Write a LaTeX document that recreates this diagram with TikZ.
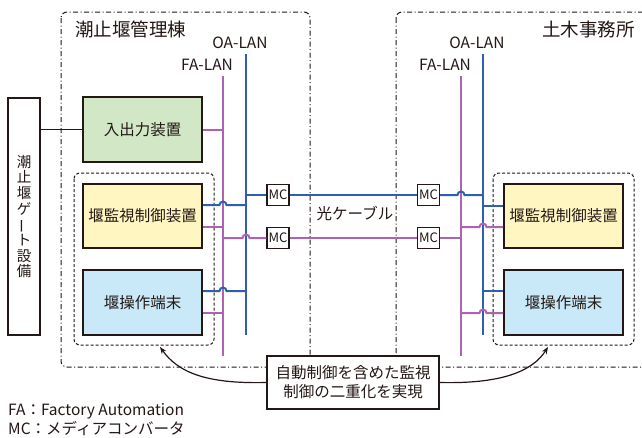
\documentclass[tikz,border=0pt]{standalone}
\usepackage{fontspec}
\setmainfont{Noto Sans CJK JP}
\usepackage{graphicx}
\usetikzlibrary{arrows.meta}

\definecolor{ink}{HTML}{231815}
\definecolor{oablue}{HTML}{2F5FAE}
\definecolor{fapurple}{HTML}{AE62B4}
\definecolor{iofill}{HTML}{D2E7C6}
\definecolor{ctlfill}{HTML}{FFF6C2}
\definecolor{termfill}{HTML}{C9E8F8}

\tikzset{
  devbox/.style={draw=ink, line width=1.8pt, minimum width=119pt, text=ink,
    font=\fontsize{15.5}{17}\selectfont, inner sep=0pt},
  mcbox/.style={draw=ink, fill=white, line width=1.4pt, minimum width=22pt,
    minimum height=21pt, inner sep=0pt, text=ink, font=\fontsize{13}{13}\selectfont},
  sitebox/.style={draw=ink, line width=1pt, rounded corners=6pt,
    dash pattern=on 5pt off 2.5pt on 1pt off 2.5pt},
  groupbox/.style={draw=ink, line width=1pt, rounded corners=6pt,
    dash pattern=on 3pt off 2pt},
  oaline/.style={draw=oablue, line width=2pt},
  faline/.style={draw=fapurple, line width=2pt},
  plain/.style={text=ink, inner sep=0pt},
  callarrow/.style={draw=ink, line width=1.2pt, -{Stealth[length=7pt,width=5.5pt]}},
}

\newcommand{\hopR}{arc[start angle=180, end angle=360, radius=3.5]}

\begin{document}
\begin{tikzpicture}[x=1pt, y=-1pt]
\clip (0,0) rectangle (642,437);
\fill[white] (0,0) rectangle (642,437);

% site enclosures
\draw[sitebox] (61,12) rectangle (310,367);
\draw[sitebox] (396,12) rectangle (650,367);
\node[plain, anchor=west, font=\fontsize{18.5}{20}\selectfont] (titleL) at (75,29) {潮止堰管理棟};
\node[plain, anchor=east, font=\fontsize{18.5}{20}\selectfont] (titleR) at (635,29) {土木事務所};

% duplicated control groups
\draw[groupbox] (74,173) rectangle (214,345);
\draw[groupbox] (493,173) rectangle (634,345);

% LAN buses
\coordinate (oaLtop) at (246,54);  \coordinate (oaLbot) at (246,335);
\coordinate (faLtop) at (223,76);  \coordinate (faLbot) at (223,356);
\coordinate (oaRtop) at (483,54);  \coordinate (oaRbot) at (483,335);
\coordinate (faRtop) at (461,76);  \coordinate (faRbot) at (461,356);
\draw[faline] (faLtop) -- (faLbot);
\draw[oaline] (oaLtop) -- (oaLbot);
\draw[faline] (faRtop) -- (faRbot);
\draw[oaline] (oaRtop) -- (oaRbot);

\node[plain, font=\fontsize{15.5}{16}\selectfont, anchor=south] (oaLlab) at (240,49) {OA-LAN};
\node[plain, font=\fontsize{15.5}{16}\selectfont, anchor=south] (faLlab) at (207,71) {FA-LAN};
\node[plain, font=\fontsize{15.5}{16}\selectfont, anchor=south] (oaRlab) at (477,49) {OA-LAN};
\node[plain, font=\fontsize{15.5}{16}\selectfont, anchor=south] (faRlab) at (445,71) {FA-LAN};

% equipment
\node[draw=ink, line width=1.8pt, minimum width=32pt, minimum height=237pt,
      inner sep=0pt, text=ink, font=\fontsize{14.5}{15.7}\selectfont,
      align=center] (gate) at (24,216.5)
  {潮\\止\\堰\\ゲ\\\rotatebox[origin=c]{90}{ー}\\ト\\設\\備};
\node[devbox, fill=iofill, minimum height=65pt] (io) at (142.5,129.5) {入出力装置};
\node[devbox, fill=ctlfill, minimum height=64pt] (ctlL) at (142.5,216) {堰監視制御装置};
\node[devbox, fill=termfill, minimum height=65pt] (termL) at (142.5,302.5) {堰操作端末};
\node[devbox, fill=ctlfill, minimum height=64pt] (ctlR) at (563.5,216) {堰監視制御装置};
\node[devbox, fill=termfill, minimum height=65pt] (termR) at (563.5,302.5) {堰操作端末};

% media converters
\node[mcbox] (mc1L) at (278,195) {MC};
\node[mcbox] (mc2L) at (278,238) {MC};
\node[mcbox] (mc1R) at (428.5,195) {MC};
\node[mcbox] (mc2R) at (428.5,238) {MC};

% junction and crossing points
\coordinate (ioF) at (223,130);
\coordinate (ctlLoa) at (246,205);  \coordinate (ctlLhop) at (223,205);
\coordinate (ctlLfa) at (223,227);
\coordinate (mc1Loa) at (246,195);
\coordinate (mc2Lfa) at (223,238);  \coordinate (mc2Lhop) at (246,238);
\coordinate (termLoa) at (246,291); \coordinate (termLhop) at (223,291);
\coordinate (termLfa) at (223,313);
\coordinate (mc1Roa) at (483,195);  \coordinate (mc1Rhop) at (461,195);
\coordinate (mc2Rfa) at (461,238);
\coordinate (ctlRoa) at (483,206);
\coordinate (ctlRfa) at (461,227);  \coordinate (ctlRhop) at (483,227);
\coordinate (termRoa) at (483,291);
\coordinate (termRfa) at (461,313); \coordinate (termRhop) at (483,313);

% gate equipment link
\draw[ink, line width=1.4pt] (gate.east |- io.west) -- (io.west);
\draw[faline] (io.east |- ioF) -- (ioF);

% left building links
\draw[oaline] (ctlL.east |- ctlLoa) -- ([xshift=-3.5pt]ctlLhop) \hopR -- (ctlLoa);
\draw[faline] (ctlL.east |- ctlLfa) -- (ctlLfa);
\draw[oaline] (mc1Loa) -- (mc1L.west);
\draw[faline] (mc2Lfa) -- ([xshift=-3.5pt]mc2Lhop) \hopR -- (mc2L.west);
\draw[oaline] (termL.east |- termLoa) -- ([xshift=-3.5pt]termLhop) \hopR -- (termLoa);
\draw[faline] (termL.east |- termLfa) -- (termLfa);

% optical cables
\draw[oaline] (mc1L.east) -- (mc1R.west);
\draw[faline] (mc2L.east) -- (mc2R.west);
\node[plain, font=\fontsize{15.5}{17}\selectfont] (fiber) at (355,213) {光ケーブル};

% right office links
\draw[oaline] (mc1R.east) -- ([xshift=-3.5pt]mc1Rhop) \hopR -- (mc1Roa);
\draw[faline] (mc2R.east) -- (mc2Rfa);
\draw[oaline] (ctlRoa) -- (ctlR.west |- ctlRoa);
\draw[faline] (ctlRfa) -- ([xshift=-3.5pt]ctlRhop) \hopR -- (ctlR.west |- ctlRfa);
\draw[oaline] (termRoa) -- (termR.west |- termRoa);
\draw[faline] (termRfa) -- ([xshift=-3.5pt]termRhop) \hopR -- (termR.west |- termRfa);

% callout
\node[draw=ink, line width=1.4pt, fill=white, minimum width=172pt, minimum height=53pt,
      inner sep=0pt, text=ink, align=center, font=\fontsize{15.5}{19}\selectfont]
  (note) at (353,382.5) {自動制御を含めた監視\\制御の二重化を実現};
\coordinate (grpL) at (160,347);
\coordinate (grpR) at (548,347);
\draw[callarrow] (note.west) .. controls (205,384) and (178,372) .. (grpL);
\draw[callarrow] (note.east) .. controls (500,384) and (532,372) .. (grpR);

% legend
\node[plain, anchor=west, font=\fontsize{15.5}{16}\selectfont] (legFA) at (8,411) {FA：Factory Automation};
\node[plain, anchor=west, font=\fontsize{15.5}{16}\selectfont] (legMC) at (8,428) {MC：メディアコンバータ};
\end{tikzpicture}
\end{document}
